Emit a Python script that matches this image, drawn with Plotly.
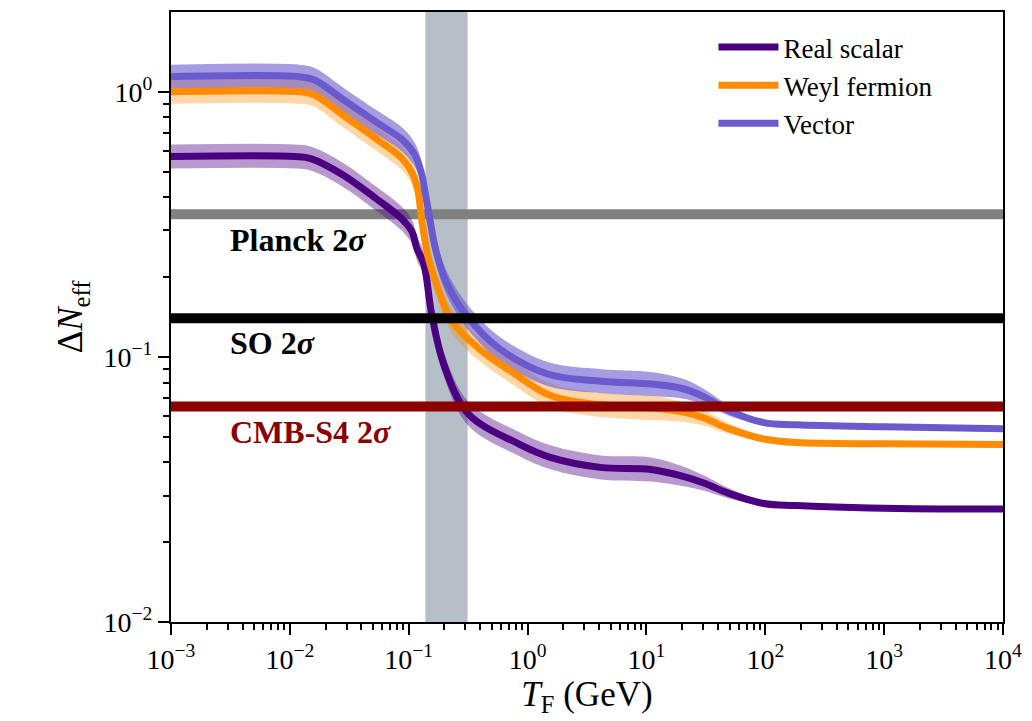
import math
import plotly.graph_objects as go

# Freeze-out temperature samples (GeV), central Delta N_eff and fractional band half-width
T_scalar = [1e-3, 0.011, 0.015, 0.0276, 0.053, 0.083, 0.106, 0.117, 0.134, 0.156, 0.197, 0.317,
            0.84, 1.58, 4.1, 10.9, 20, 30, 50, 97, 183, 1300, 1e4]
N_scalar = [0.57, 0.57, 0.56, 0.488, 0.396, 0.339, 0.298, 0.257, 0.224, 0.145, 0.094, 0.061,
            0.047, 0.0417, 0.0383, 0.0376, 0.0355, 0.0335, 0.0305, 0.028, 0.0275, 0.0268, 0.0267]
E_scalar = [0.11, 0.11, 0.11, 0.11, 0.11, 0.11, 0.11, 0.11, 0.11, 0.11, 0.11, 0.11,
            0.11, 0.11, 0.11, 0.11, 0.09, 0.07, 0.045, 0.02, 0.01, 0.005, 0.005]

T_weyl = [1e-3, 0.012, 0.016, 0.0276, 0.053, 0.088, 0.108, 0.12, 0.128, 0.145, 0.168, 0.23, 0.385,
          0.79, 1.5, 3, 6, 12, 20, 30, 50, 97, 183, 1000, 1e4]
N_weyl = [1.0, 1.0, 0.975, 0.82, 0.666, 0.56, 0.49, 0.42, 0.333, 0.24, 0.193, 0.137, 0.108,
          0.086, 0.072, 0.067, 0.065, 0.064, 0.062, 0.059, 0.0535, 0.049, 0.0475, 0.047, 0.0467]
E_weyl = [0.11, 0.11, 0.11, 0.11, 0.11, 0.11, 0.11, 0.11, 0.11, 0.11, 0.11, 0.11, 0.11,
          0.11, 0.11, 0.11, 0.11, 0.11, 0.09, 0.07, 0.045, 0.02, 0.01, 0.005, 0.005]

T_vector = [1e-3, 0.012, 0.016, 0.0276, 0.053, 0.088, 0.112, 0.127, 0.137, 0.148, 0.17, 0.205, 0.3,
            0.57, 1.5, 4.2, 10.9, 20, 30, 50, 97, 183, 1000, 1e4]
N_vector = [1.14, 1.14, 1.11, 0.94, 0.77, 0.66, 0.58, 0.5, 0.42, 0.345, 0.25, 0.193, 0.145,
            0.108, 0.086, 0.081, 0.079, 0.076, 0.071, 0.0626, 0.0565, 0.0555, 0.0545, 0.0536]
E_vector = [0.11, 0.11, 0.11, 0.11, 0.11, 0.11, 0.11, 0.11, 0.11, 0.11, 0.11, 0.11, 0.11,
            0.11, 0.11, 0.11, 0.11, 0.09, 0.07, 0.045, 0.02, 0.01, 0.005, 0.005]

# Projected 2-sigma sensitivities
exp_names = ["Planck 2<i>σ</i>", "SO 2<i>σ</i>", "CMB-S4 2<i>σ</i>"]
exp_values = [0.345, 0.14, 0.065]
exp_colors = ["#808080", "#000000", "#8B0000"]
exp_text_colors = ["#000000", "#000000", "#8B0000"]
exp_label_y = [0.275, 0.113, 0.052]

# QCD transition window (GeV)
qcd_window = [0.138, 0.313]

series = [
    ("Real scalar", T_scalar, N_scalar, E_scalar, "#4B0082", "rgba(75,0,130,0.4)"),
    ("Weyl fermion", T_weyl, N_weyl, E_weyl, "#FF8C00", "rgba(255,140,0,0.35)"),
    ("Vector", T_vector, N_vector, E_vector, "#6A5ACD", "rgba(106,90,205,0.6)"),
]

FONT = "Liberation Serif"
SMOOTH = 1.0
fig = go.Figure()

for name, T, N, E, col, band in series:
    upper = [n * (1 + e) for n, e in zip(N, E)]
    lower = [n / (1 + e) for n, e in zip(N, E)]
    fig.add_trace(go.Scatter(x=T, y=lower, mode="lines",
                             line=dict(width=0, shape="spline", smoothing=SMOOTH),
                             showlegend=False, hoverinfo="skip"))
    fig.add_trace(go.Scatter(x=T, y=upper, mode="lines",
                             line=dict(width=0, shape="spline", smoothing=SMOOTH),
                             fill="tonexty", fillcolor=band, showlegend=False, hoverinfo="skip"))

for name, T, N, E, col, band in series:
    fig.add_trace(go.Scatter(x=T, y=N, mode="lines", name=name, legendgroup=name,
                             line=dict(color=col, width=7, shape="spline", smoothing=SMOOTH)))

shapes = [dict(type="rect", xref="x", yref="paper", x0=qcd_window[0], x1=qcd_window[1], y0=0, y1=1,
               fillcolor="#b6bfc8", line=dict(width=0), layer="below")]
for i, (v, c) in enumerate(zip(exp_values, exp_colors)):
    shapes.append(dict(type="line", xref="paper", yref="y", x0=0, x1=1, y0=v, y1=v,
                       line=dict(color=c, width=10), layer="below" if i == 0 else "above"))

annotations = []
for name, ly, c in zip(exp_names, exp_label_y, exp_text_colors):
    annotations.append(dict(x=-2.52, y=math.log10(ly), xref="x", yref="y", text="<b>" + name + "</b>",
                            showarrow=False, xanchor="left", yanchor="middle",
                            font=dict(family=FONT, size=32, color=c)))

decades_x = list(range(-3, 5))
decades_y = list(range(-2, 1))
minor_x = [m * 10 ** d for d in range(-3, 4) for m in range(2, 10)]
minor_y = [m * 10 ** d for d in range(-2, 1) for m in range(2, 10) if m * 10 ** d < 2.0]


def sup(d):
    return "10<sup>" + (str(d) if d >= 0 else "−" + str(-d)) + "</sup>"


fig.update_layout(
    width=1032, height=721,
    margin=dict(l=171, r=25, t=10, b=99),
    paper_bgcolor="white", plot_bgcolor="white",
    shapes=shapes, annotations=annotations,
    font=dict(family=FONT, color="black"),
    legend=dict(x=0.652, y=0.982, xanchor="left", yanchor="top", bgcolor="rgba(0,0,0,0)",
                traceorder="normal", tracegroupgap=9,
                font=dict(family=FONT, size=27), itemwidth=60),
    xaxis=dict(type="log", range=[-3, 4], showgrid=False, zeroline=False,
               showline=True, linecolor="black", linewidth=2, mirror=True,
               ticks="outside", ticklen=11, tickwidth=2, tickcolor="black",
               tickmode="array", tickvals=[10 ** d for d in decades_x], ticktext=[sup(d) for d in decades_x],
               tickfont=dict(family=FONT, size=28),
               minor=dict(ticks="outside", ticklen=6, tickwidth=1.5, tickcolor="black",
                          tickmode="array", tickvals=minor_x),
               title=dict(text="<i>T</i><sub>F</sub> (GeV)", font=dict(family=FONT, size=35), standoff=8)),
    yaxis=dict(type="log", range=[-2, 0.301], showgrid=False, zeroline=False,
               showline=True, linecolor="black", linewidth=2, mirror=True,
               ticks="outside", ticklen=11, tickwidth=2, tickcolor="black",
               tickmode="array", tickvals=[10 ** d for d in decades_y], ticktext=[sup(d) for d in decades_y],
               tickfont=dict(family=FONT, size=28),
               minor=dict(ticks="outside", ticklen=6, tickwidth=1.5, tickcolor="black",
                          tickmode="array", tickvals=minor_y),
               title=dict(text="Δ<i>N</i><sub>eff</sub>", font=dict(family=FONT, size=35), standoff=10)),
)

fig.write_html("out.html")
